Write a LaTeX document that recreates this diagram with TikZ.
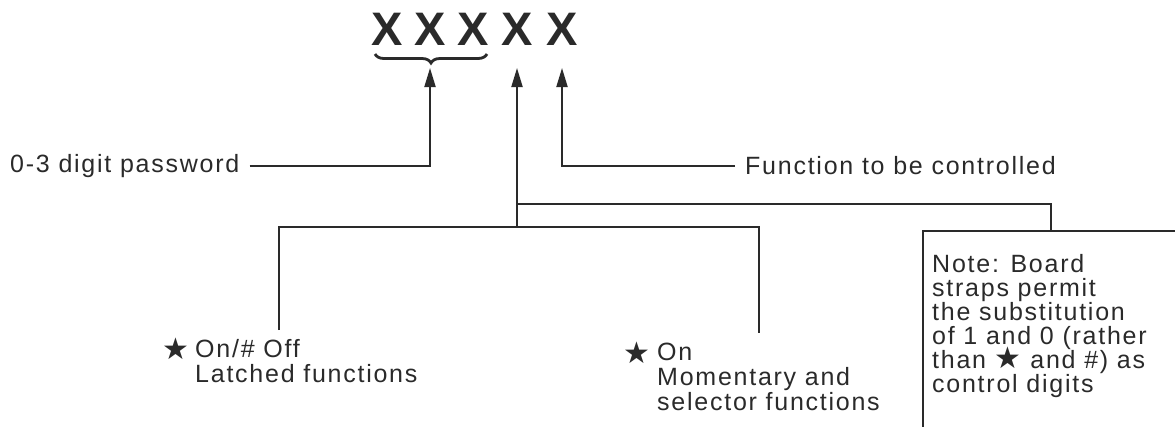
\documentclass[tikz,border=0pt]{standalone}
\usepackage{fontspec}
\setmainfont{Liberation Sans}[LetterSpace=7]
\newfontfamily\xfont{Liberation Sans}
\newfontfamily\symfont{DejaVu Sans}
\usetikzlibrary{arrows.meta, decorations.pathreplacing, positioning}
\definecolor{ink}{HTML}{2A2A2A}
\newcommand{\starsym}{{\symfont\fontsize{30}{30}\selectfont ★}}
\tikzset{
	bigx/.style={font=\fontsize{47}{47}\xfont\bfseries, inner sep=0pt, outer ysep=23pt},
	caption/.style={font=\fontsize{25}{25}\selectfont, inner xsep=10pt, inner ysep=0pt, align=left},
	wire/.style={draw=ink, line width=2pt},
	pointer/.style={wire, -{Triangle[length=19pt,width=11pt]}},
	notebox/.style={draw=ink, line width=2pt}
}
\begin{document}
\begin{tikzpicture}[x=1pt, y=-1pt, every node/.append style={text=ink}]
		\useasboundingbox (0,0) rectangle (1175,426);
		\clip (0,0) rectangle (1175,426);
		
		% The five code digits
		\foreach \i/\cx in {1/387,2/430,3/473,4/517,5/562}
			\node[bigx, anchor=base] (x\i) at (\cx,45) {X};
		\draw[ink, line width=2.8pt, decorate, decoration={brace, mirror, amplitude=9pt}] (375,54) -- (487,54);
		
		% Password and function labels
		\node[caption, anchor=west] (pwtext) at (0,166) {0-3 digit password};
		\node[caption, anchor=west] (funtext) at (735,166) {Function to be controlled};
		\draw[pointer] (pwtext.east) -| (x2.south);
		\draw[pointer] (funtext.west) -| (x5.south);
		
		% Control digit
		\coordinate (split) at (517,227);
		\coordinate (tap) at (517,204);
		\coordinate (latchend) at (279,330);
		\coordinate (momend) at (759,333);
		\draw[pointer] (split) -- (x4.south);
		\draw[wire] (latchend) |- (split) -| (momend);
		
		% Latched functions
		\node (latchstar) at (176,349) {\starsym};
		\node[caption, anchor=north west, inner xsep=0pt] (latched) at (195,339) {On/\# Off\\Latched functions};
		
		% Momentary functions
		\node (momstar) at (637,353) {\starsym};
		\node[caption, anchor=north west, inner xsep=0pt] (momentary) at (657,343) {On\\Momentary and\\selector functions};
		
		% Note
		\node[notebox, anchor=north west, minimum width=256pt, minimum height=230pt] (note) at (922,230) {};
		\node[caption, font=\fontsize{25}{24}\selectfont, anchor=north west] (notetext) at ([yshift=-24pt]note.north west) {Note: Board\\straps permit\\the substitution\\of 1 and 0 (rather\\than \smash{\starsym} and \#) as\\control digits};
		\draw[wire] (tap) -| (note.north);
	\end{tikzpicture}
\end{document}
